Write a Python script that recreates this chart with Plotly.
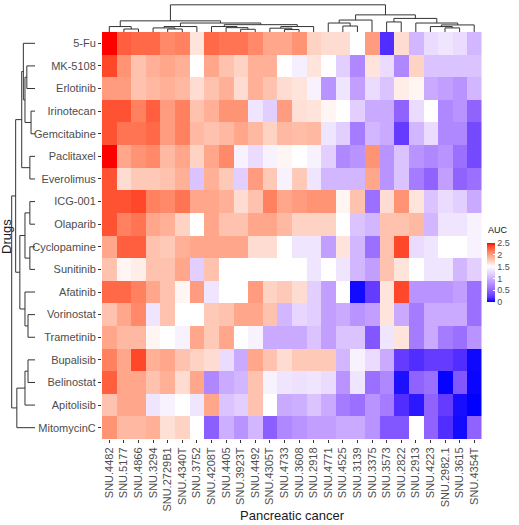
import plotly.graph_objects as go

W, H = 519, 525

drugs = ["5-Fu", "MK-5108", "Erlotinib", "Irinotecan", "Gemcitabine", "Paclitaxel",
         "Everolimus", "ICG-001", "Olaparib", "Cyclopamine", "Sunitinib", "Afatinib",
         "Vorinostat", "Trametinib", "Bupalisib", "Belinostat", "Apitolisib", "MitomycinC"]

cell_lines = ["SNU.4482", "SNU.5177", "SNU.4866", "SNU.3294", "SNU.2729B1", "SNU.4340T",
              "SNU.3752", "SNU.4208T", "SNU.4405", "SNU.3923T", "SNU.4492", "SNU.4305T",
              "SNU.4733", "SNU.3608", "SNU.2918", "SNU.4771", "SNU.4525", "SNU.3139",
              "SNU.3375", "SNU.3573", "SNU.2822", "SNU.2913", "SNU.4223", "SNU.2982.1",
              "SNU.3615", "SNU.4354T"]

auc_5fu = [2.5, 2.28, 2.24, 2.24, 2.1, 2.14, 1.64, 2.24, 2.19, 2.19, 2.1, 1.96, 1.96, 2.05, 1.73, 1.68, 1.68, 1.5, 2.01, 0.17, 1.68, 1.03, 1.27, 1.34, 1.27, 1.03]
auc_mk5108 = [2.37, 2.05, 1.82, 1.91, 1.96, 1.91, 1.5, 1.96, 1.82, 1.73, 1.91, 1.91, 1.5, 1.4, 1.64, 1.5, 1.19, 0.72, 1.64, 1.27, 0.72, 1.73, 1.11, 1.11, 1.11, 1.11]
auc_erlotinib = [2.01, 2.01, 1.82, 1.87, 1.91, 1.87, 1.68, 1.82, 1.91, 1.68, 1.91, 1.82, 1.68, 1.64, 1.42, 0.8, 1.34, 0.88, 1.27, 1.11, 1.59, 1.55, 0.95, 0.88, 0.8, 1.03]
auc_irinotecan = [2.33, 2.33, 2.14, 2.28, 2.01, 2.14, 1.82, 1.91, 2.05, 2.05, 1.34, 1.19, 2.01, 1.66, 1.64, 1.55, 1.5, 1.19, 0.95, 0.95, 0.49, 1.27, 1.5, 0.72, 0.8, 0.49]
auc_gemcitabine = [2.33, 2.19, 2.19, 2.24, 2.01, 2.14, 1.87, 1.82, 1.87, 1.96, 1.87, 1.73, 1.87, 1.85, 1.87, 1.34, 1.19, 0.64, 1.03, 0.95, 0.25, 1.03, 1.27, 0.72, 0.72, 0.33]
auc_paclitaxel = [2.5, 1.96, 2.05, 2.1, 1.87, 1.96, 1.73, 1.96, 2.1, 1.42, 1.27, 1.42, 1.55, 1.5, 1.42, 1.19, 0.72, 0.8, 2.05, 0.8, 1.11, 0.8, 0.72, 0.8, 0.56, 0.33]
auc_everolimus = [2.33, 1.68, 1.78, 1.78, 1.82, 1.91, 1.11, 1.91, 1.78, 1.19, 2.01, 1.78, 1.42, 1.78, 1.34, 1.03, 1.03, 1.03, 1.96, 0.8, 1.11, 0.64, 0.49, 0.88, 0.49, 0.56]
auc_icg001 = [2.33, 2.33, 2.37, 2.14, 2.1, 2.19, 1.96, 1.96, 1.91, 1.68, 1.82, 2.14, 1.96, 2.01, 2.05, 2.05, 1.55, 1.82, 0.56, 1.68, 2.05, 1.64, 1.11, 1.27, 1.19, 0.95]
auc_olaparib = [2.33, 2.14, 2.19, 1.96, 1.91, 1.73, 1.5, 1.96, 1.82, 1.82, 1.96, 1.96, 1.87, 1.73, 1.73, 1.73, 1.5, 1.11, 1.03, 1.82, 1.82, 1.87, 1.03, 1.34, 1.34, 1.42]
auc_cyclopamine = [1.96, 2.28, 2.28, 1.82, 1.78, 1.91, 1.96, 1.96, 1.96, 1.96, 1.68, 1.68, 1.5, 1.34, 1.34, 0.88, 1.64, 1.03, 0.56, 1.82, 2.37, 1.27, 1.34, 1.5, 1.5, 1.42]
auc_sunitinib = [1.82, 1.55, 1.59, 1.82, 1.82, 1.96, 1.19, 1.82, 1.5, 1.5, 1.5, 1.5, 1.5, 1.5, 1.34, 1.5, 1.34, 1.03, 0.88, 1.82, 1.64, 1.5, 1.34, 1.34, 1.03, 1.19]
auc_afatinib = [2.24, 2.24, 2.14, 1.96, 1.82, 1.55, 2.01, 1.34, 1.5, 1.5, 2.01, 1.73, 1.78, 1.68, 1.19, 0.88, 1.5, 0.04, 0.25, 1.64, 2.37, 0.8, 0.8, 0.8, 0.88, 0.56]
auc_vorinostat = [1.82, 1.96, 2.1, 1.34, 1.82, 1.5, 1.5, 1.78, 1.82, 1.96, 1.96, 1.82, 1.03, 1.24, 1.19, 0.88, 0.95, 0.8, 0.88, 1.64, 0.95, 0.64, 0.95, 0.95, 0.95, 0.56]
auc_trametinib = [1.96, 1.87, 1.87, 1.55, 1.5, 1.42, 1.96, 1.78, 1.96, 1.5, 1.42, 0.95, 0.95, 0.95, 1.11, 0.88, 1.11, 1.11, 0.41, 1.34, 1.64, 0.64, 0.95, 0.64, 0.56, 0.8]
auc_bupalisib = [2.14, 1.96, 2.37, 1.91, 1.96, 1.82, 1.73, 1.68, 1.27, 0.95, 1.96, 1.82, 1.68, 1.78, 1.78, 1.78, 1.03, 1.42, 1.27, 0.95, 0.25, 0.17, 0.25, 0.25, 0.17, 0.03]
auc_belinostat = [2.28, 1.96, 1.96, 1.82, 1.91, 1.68, 1.96, 0.72, 0.95, 1.03, 1.82, 1.42, 1.34, 1.31, 1.34, 1.27, 0.8, 1.34, 0.56, 0.72, 0.06, 0.49, 0.56, 0.01, 0.41, 0.02]
auc_apitolisib = [1.82, 1.96, 1.96, 1.34, 1.42, 1.5, 1.34, 1.96, 1.11, 1.19, 1.82, 1.5, 0.95, 0.98, 1.11, 0.95, 0.64, 0.56, 0.8, 0.64, 0.17, 0.09, 0.49, 0.25, 0.05, 0.0]
auc_mitomycinc = [2.05, 1.87, 1.87, 1.91, 1.66, 1.73, 1.5, 0.46, 0.98, 0.8, 1.03, 0.46, 0.72, 0.8, 0.88, 0.88, 0.95, 0.95, 0.8, 0.41, 0.41, 1.5, 0.49, 0.17, 0.04, 0.49]

auc_matrix = [auc_5fu, auc_mk5108, auc_erlotinib, auc_irinotecan, auc_gemcitabine,
              auc_paclitaxel, auc_everolimus, auc_icg001, auc_olaparib, auc_cyclopamine,
              auc_sunitinib, auc_afatinib, auc_vorinostat, auc_trametinib, auc_bupalisib,
              auc_belinostat, auc_apitolisib, auc_mitomycinc]

colorbar_ticks = [0, 0.5, 1, 1.5, 2, 2.5]
colorbar_labels = ["0", "0.5", "1", "1.5", "2", "2.5"]

# dendrogram trees: (merge height, left, right); leaves are display indices
col_tree = (1.0,
            (0.41,
             (0.2, 0, (0.11, 1, 2)),
             (0.33,
              (0.2, (0.15, 3, (0.11, 4, 5)), 6),
              (0.27,
               (0.2, 7, (0.16, 8, (0.1, 9, 10))),
               (0.2, (0.14, 11, (0.09, 12, 13)), 14)))),
            (0.63,
             (0.44, (0.33, 15, (0.22, 16, 17)), 18),
             (0.5, (0.37, 19, 20),
              (0.33, 21, (0.26, (0.2, 22, (0.15, 23, 24)), 25)))))

row_tree = (1.0,
            (0.83,
             (0.57,
              (0.5, 0, (0.43, (0.35, 1, 2), (0.17, 3, 4))),
              (0.22, 5, 6)),
             (0.65,
              (0.43, (0.22, 7, 8), (0.22, 9, 10)),
              (0.43, 11, (0.3, 12, 13)))),
            (0.78, (0.43, (0.3, 14, 15), 16), 17))


def dendro(node):
    if isinstance(node, int):
        return float(node), 0.0, []
    h, l, r = node
    xl, hl, sl = dendro(l)
    xr, hr, sr = dendro(r)
    seg = [(xl, hl), (xl, h), (xr, h), (xr, hr)]
    return (xl + xr) / 2, h, sl + sr + [seg]


def seg_xy(segs, swap=False):
    xs, ys = [], []
    for s in segs:
        for p, h in s:
            if swap:
                xs.append(h); ys.append(p)
            else:
                xs.append(p); ys.append(h)
        xs.append(None); ys.append(None)
    return xs, ys


_, _, col_segs = dendro(col_tree)
_, _, row_segs = dendro(row_tree)
cx, cy = seg_xy(col_segs)
rx, ry = seg_xy(row_segs, swap=True)

# pixel geometry
hx0, hx1 = 102, 481.5
hy0, hy1 = 32, 439
px = lambda v: v / W
py = lambda v: 1 - v / H

font = "Liberation Sans, Arial, sans-serif"
# blue - white - red ramp interpolated in Lab space (white at AUC 1.5)
colorscale = [
    [0.0, "rgb(0,0,255)"], [0.075, "rgb(89,50,255)"], [0.15, "rgb(126,81,255)"],
    [0.225, "rgb(155,111,255)"], [0.3, "rgb(179,139,255)"], [0.375, "rgb(200,168,255)"],
    [0.45, "rgb(220,197,255)"], [0.525, "rgb(238,225,255)"], [0.6, "rgb(255,255,255)"],
    [0.65, "rgb(255,231,223)"], [0.7, "rgb(255,207,191)"], [0.75, "rgb(255,183,160)"],
    [0.8, "rgb(255,158,129)"], [0.85, "rgb(255,132,99)"], [0.9, "rgb(255,103,70)"],
    [0.95, "rgb(255,70,40)"], [1.0, "rgb(255,0,0)"],
]

fig = go.Figure()
fig.add_trace(go.Heatmap(
    z=auc_matrix, x=list(range(len(cell_lines))), y=list(range(len(drugs))),
    zmin=0, zmax=2.5, colorscale=colorscale,
    colorbar=dict(
        x=px(487), xanchor="left", y=py(243), yanchor="top",
        len=59, lenmode="pixels", thickness=8, xpad=0, ypad=0,
        outlinewidth=0,
        tickvals=colorbar_ticks, ticktext=colorbar_labels,
        tickfont=dict(size=9, color="#4d4d4d", family=font),
        ticks="inside", ticklen=2, tickcolor="white",
    ),
    hoverinfo="z",
))

line_style = dict(color="#333333", width=1)
fig.add_trace(go.Scatter(x=cx, y=cy, mode="lines", line=line_style,
                         xaxis="x2", yaxis="y2", hoverinfo="skip", showlegend=False))
fig.add_trace(go.Scatter(x=rx, y=ry, mode="lines", line=line_style,
                         xaxis="x3", yaxis="y3", hoverinfo="skip", showlegend=False))

fig.update_layout(
    width=W, height=H,
    margin=dict(l=0, r=0, t=0, b=0),
    paper_bgcolor="white", plot_bgcolor="white",
    font=dict(family=font, color="#4d4d4d"),
    showlegend=False,
    xaxis=dict(domain=[px(hx0), px(hx1)], range=[-0.5, len(cell_lines) - 0.5],
               tickvals=list(range(len(cell_lines))), ticktext=cell_lines,
               tickangle=-90, tickfont=dict(size=11, color="#4d4d4d"),
               ticks="outside", ticklen=3, tickcolor="#333", showgrid=False,
               zeroline=False, showline=False, anchor="y"),
    yaxis=dict(domain=[py(hy1), py(hy0)], range=[len(drugs) - 0.5, -0.5],
               tickvals=list(range(len(drugs))), ticktext=drugs,
               tickfont=dict(size=11, color="#4d4d4d"),
               ticks="outside", ticklen=3, tickcolor="#333", showgrid=False,
               zeroline=False, showline=False, anchor="x"),
    xaxis2=dict(domain=[px(hx0), px(hx1)], range=[-0.5, len(cell_lines) - 0.5],
                visible=False, anchor="y2"),
    yaxis2=dict(domain=[py(hy0), py(4)], range=[0, 1.03], visible=False, anchor="x2"),
    xaxis3=dict(domain=[px(11), px(hx0 - 67)], range=[1.03, 0], visible=False, anchor="y3"),
    yaxis3=dict(domain=[py(hy1), py(hy0)], range=[len(drugs) - 0.5, -0.5],
                visible=False, anchor="x3"),
    annotations=[
        dict(text="AUC", x=px(486), y=py(230), xref="paper", yref="paper",
             showarrow=False, font=dict(size=9, color="#111", family=font),
             xanchor="left", yanchor="middle"),
        dict(text="Pancreatic cancer", x=px(292), y=py(515), xref="paper", yref="paper",
             showarrow=False, font=dict(size=13, color="#1a1a1a", family=font),
             xanchor="center", yanchor="middle"),
        dict(text="Drugs", x=px(7), y=py(237), xref="paper", yref="paper",
             showarrow=False, textangle=-90, font=dict(size=13, color="#1a1a1a", family=font),
             xanchor="center", yanchor="middle"),
    ],
)

fig.write_html("out.html")
